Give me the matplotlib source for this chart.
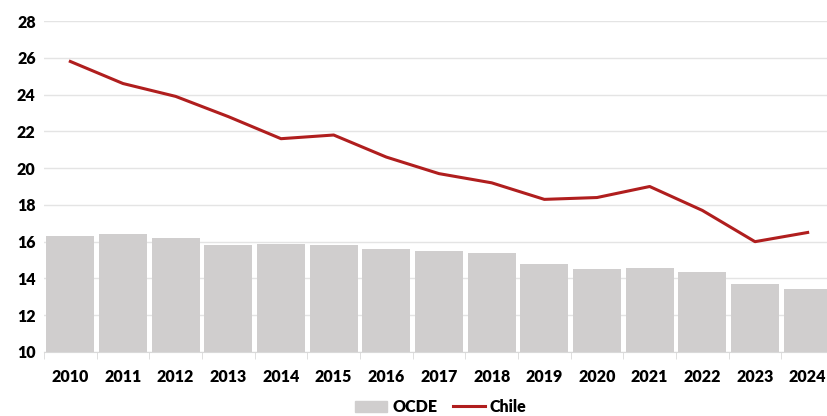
import numpy as np
import matplotlib.pyplot as plt
from matplotlib.lines import Line2D
from matplotlib.patches import Patch

plt.rcParams['font.family'] = ['Lato', 'DejaVu Sans']

years = ['2010', '2011', '2012', '2013', '2014', '2015', '2016', '2017',
         '2018', '2019', '2020', '2021', '2022', '2023', '2024']
ocde = [16.3, 16.4, 16.2, 15.8, 15.9, 15.8, 15.6, 15.5,
        15.4, 14.8, 14.5, 14.55, 14.35, 13.7, 13.4]
chile = [25.8, 24.6, 23.9, 22.8, 21.6, 21.8, 20.6, 19.7,
         19.2, 18.3, 18.4, 19.0, 17.7, 16.0, 16.5]

fig = plt.figure(figsize=(8.28, 4.16), dpi=100)
ax = fig.add_axes([44 / 828, 64 / 416, 790 / 828, 331 / 416])

x = np.arange(len(years))
ax.bar(x, np.array(ocde) - 10, bottom=10, width=0.91, color='#D0CECE', zorder=2)
ax.plot(x, chile, color='#B01E1E', lw=2.2, zorder=3)

ax.set_ylim(10, 28)
ax.set_xlim(-0.5, len(years) - 0.5)
ax.set_yticks(np.arange(10, 29, 2))
ax.grid(axis='y', color='#E4E4E4', lw=1, zorder=0)

ax.set_xticks(x)
ax.set_xticklabels(years, fontsize=11.5, fontweight='heavy')
ax.set_xticks(np.arange(-0.5, len(years), 1), minor=True)
ax.tick_params(axis='x', which='major', length=0, pad=12)
ax.tick_params(axis='x', which='minor', length=5, color='#D9D9D9')
ax.tick_params(axis='y', length=0, labelsize=11.5, pad=6)
for lab in ax.get_yticklabels():
    lab.set_fontweight('heavy')

for s in ['top', 'right', 'left']:
    ax.spines[s].set_visible(False)
ax.spines['bottom'].set_color('#D9D9D9')

handles = [Patch(color='#D0CECE', label='OCDE'),
           Line2D([0], [0], color='#B01E1E', lw=2.2, label='Chile')]
leg = fig.legend(handles=handles, loc='center', bbox_to_anchor=(441 / 828, 1 - 407 / 416),
                 ncol=2, frameon=False, handlelength=2.0, handletextpad=0.3,
                 columnspacing=1.0, prop={'weight': 'heavy', 'size': 11.5})

fig.savefig('out.png', dpi=100)
